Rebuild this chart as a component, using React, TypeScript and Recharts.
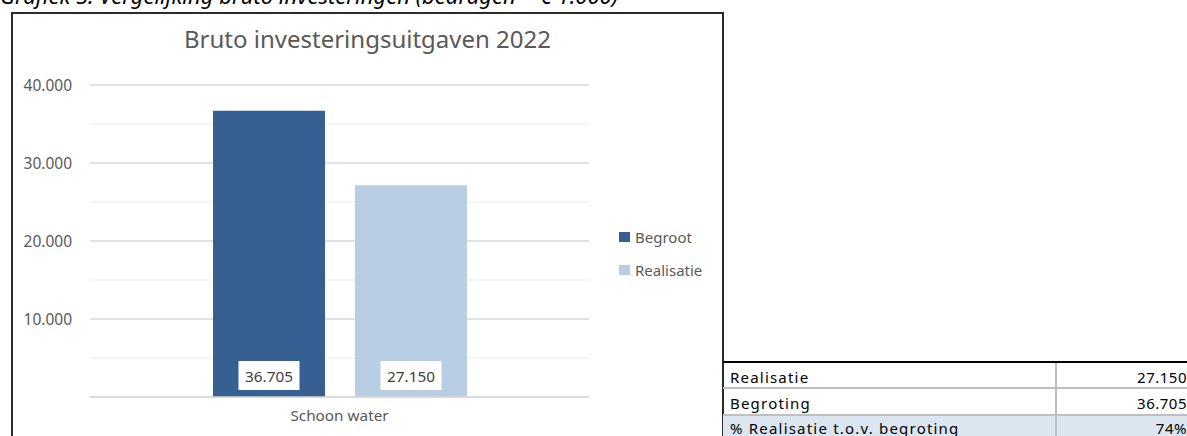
import React from 'react';
import { BarChart, Bar, XAxis, YAxis, CartesianGrid, Legend, LabelList } from 'recharts';

const categories = ['Schoon water'];
const begrootValues = [36705];
const realisatieValues = [27150];
const yTicks = [0, 5000, 10000, 15000, 20000, 25000, 30000, 35000, 40000];
const yTickLabels = ['', '', '10.000', '', '20.000', '', '30.000', '', '40.000'];
const seriesNames = ['Begroot', 'Realisatie'];
const seriesColors = ['#376092', '#B9CDE5'];
const tableLabels = ['Realisatie', 'Begroting', '% Realisatie t.o.v. begroting'];
const tableValues = ['27.150', '36.705', '74%'];

const chartTitle = 'Bruto investeringsuitgaven 2022';
const caption = 'Grafiek 5: Vergelijking bruto investeringen (bedragen = \u20ac 1.000)';

const FONT = '"Noto Sans", sans-serif';

const data = categories.map((c, i) => ({
  name: c,
  begroot: begrootValues[i],
  realisatie: realisatieValues[i],
}));

const fmt = (v: number) => String(v).replace(/\B(?=(\d{3})+(?!\d))/g, '.');

const BoxLabel = (props: any) => {
  const { x, y, width, height, value } = props;
  const bw = 61;
  const bh = 29;
  const cx = x + width / 2;
  const bottom = y + height - 7;
  return (
    <g>
      <rect x={cx - bw / 2} y={bottom - bh} width={bw} height={bh} fill="#ffffff" />
      <text x={cx} y={bottom - bh / 2} textAnchor="middle" dominantBaseline="central" fill="#404040" fontSize={15.3} fontFamily={FONT}>
        {fmt(value)}
      </text>
    </g>
  );
};

const LegendContent = (props: any) => {
  const payload = props.payload || [];
  return (
    <div style={{ fontFamily: FONT }}>
      {payload.map((p: any, i: number) => (
        <div key={i} style={{ display: 'flex', alignItems: 'center', height: 33 }}>
          <div style={{ width: 11, height: 10, background: p.color, marginRight: 5 }} />
          <span style={{ fontSize: 15, color: '#595959' }}>{p.value}</span>
        </div>
      ))}
    </div>
  );
};

const gridLine = (props: any) => {
  const { x1, x2, y1, y2, index } = props;
  const major = index % 2 === 0;
  return (
    <line key={`g${index}`} x1={x1} x2={x2} y1={y1} y2={y2} stroke={major ? '#d9d9d9' : '#f2f2f2'} strokeWidth={1.3} />
  );
};

export default function App() {
  return (
    <div style={{ position: 'absolute', left: 0, top: 0, width: 1187, height: 436, overflow: 'hidden', background: '#fff' }}>
      <div style={{ position: 'absolute', left: 0, top: -20, fontFamily: FONT, fontStyle: 'italic', fontSize: 22, color: '#000', whiteSpace: 'nowrap', lineHeight: 'normal' }}>
        {caption}
      </div>
      <div style={{ position: 'absolute', left: 11, top: 12, width: 709, height: 460, border: '2px solid #2b2b2b' }} />
      <div style={{ position: 'absolute', left: 13, width: 709, top: 22, textAlign: 'center', fontFamily: FONT, fontSize: 24, color: '#595959', lineHeight: 'normal', whiteSpace: 'nowrap' }}>
        {chartTitle}
      </div>
      <div style={{ position: 'absolute', left: 0, top: 0 }}>
        <BarChart width={1187} height={436} data={data} margin={{ top: 85, right: 598, bottom: 9, left: 30 }} barGap={30}>
          <CartesianGrid vertical={false} horizontal={gridLine as any} />
          <XAxis
            dataKey="name"
            height={30}
            axisLine={{ stroke: '#d9d9d9', strokeWidth: 1.5 }}
            tickLine={false}
            tickMargin={7}
            tick={{ fill: '#595959', fontSize: 15.3, fontFamily: FONT }}
          />
          <YAxis
            width={60}
            domain={[0, 40000]}
            ticks={yTicks}
            interval={0}
            axisLine={false}
            tickLine={false}
            tickSize={6}
            tickMargin={12}
            tickFormatter={(v: number) => yTickLabels[yTicks.indexOf(v)] ?? ''}
            tick={{ fill: '#595959', fontSize: 15.5, fontFamily: FONT }}
          />
          <Legend
            layout="vertical"
            align="center"
            verticalAlign="middle"
            content={<LegendContent />}
            wrapperStyle={{ left: 619, top: 220, width: 100, height: 66 }}
          />
          <Bar dataKey="begroot" name={seriesNames[0]} fill={seriesColors[0]} barSize={112} isAnimationActive={false}>
            <LabelList dataKey="begroot" content={<BoxLabel />} />
          </Bar>
          <Bar dataKey="realisatie" name={seriesNames[1]} fill={seriesColors[1]} barSize={112} isAnimationActive={false}>
            <LabelList dataKey="realisatie" content={<BoxLabel />} />
          </Bar>
        </BarChart>
      </div>
      <div style={{ position: 'absolute', left: 723, top: 361, width: 500, height: 80, fontFamily: FONT, fontSize: 15, color: '#000', lineHeight: 'normal' }}>
        <div style={{ position: 'absolute', left: 0, top: 0, width: 500, height: 2, background: '#000' }} />
        {tableLabels.map((lab, i) => {
          const top = [2, 28, 55][i];
          const h = [24, 25, 30][i];
          const t = [4, 4, 2][i];
          return (
            <div key={i} style={{ position: 'absolute', left: 0, top, width: 500, height: h, background: i === 2 ? '#DCE6F1' : 'transparent' }}>
              <div style={{ position: 'absolute', left: 7, top: t, whiteSpace: 'nowrap', letterSpacing: 1.2 }}>{lab}</div>
              <div style={{ position: 'absolute', left: 334, width: 130, top: t, textAlign: 'right', whiteSpace: 'nowrap', letterSpacing: 0.5 }}>{tableValues[i]}</div>
            </div>
          );
        })}
        <div style={{ position: 'absolute', left: 0, top: 26, width: 500, height: 2, background: '#bfbfbf' }} />
        <div style={{ position: 'absolute', left: 0, top: 53, width: 500, height: 2, background: '#bfbfbf' }} />
        <div style={{ position: 'absolute', left: 332, top: 2, width: 2, height: 80, background: '#bfbfbf' }} />
      </div>
    </div>
  );
}
